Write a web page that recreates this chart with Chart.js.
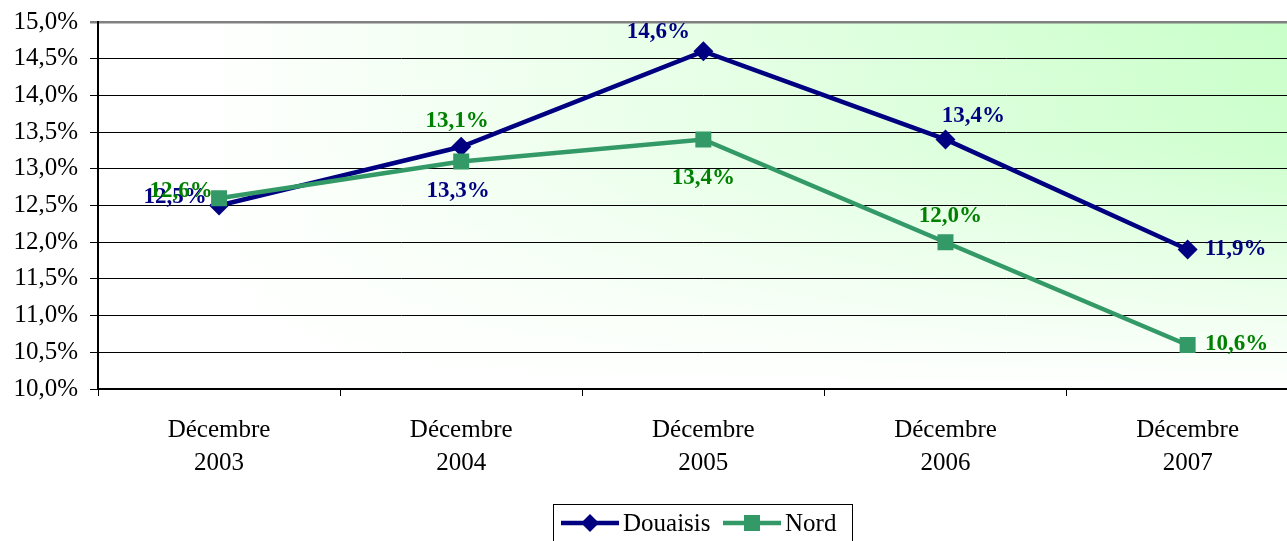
<!DOCTYPE html>
<html lang="fr">
<head>
<meta charset="UTF-8" />
<title>Douaisis / Nord</title>
<script src="https://cdn.jsdelivr.net/npm/chart.js"></script>
<style>
  html, body { margin: 0; padding: 0; background: #fff; overflow: hidden; }
  #wrap { width: 1320px; height: 541px; }
</style>
</head>
<body>
<div id="wrap"><canvas id="graph" width="1320" height="541"></canvas></div>
<script>
const annees = ['2003', '2004', '2005', '2006', '2007'];
const categories = annees.map(a => ['Décembre', a]);
const douaisis = [12.5, 13.3, 14.6, 13.4, 11.9];
const nord = [12.6, 13.1, 13.4, 12.0, 10.6];
const yMin = 10, yMax = 15, yStep = 0.5;

// décalage des étiquettes par rapport au point (px)
const decalDouaisis = [[-44, -8], [-3, 44], [-45, -19], [28, -23], [48, 0]];
const decalNord = [[-38, -7], [-4, -40], [0, 39], [5, -26], [49, -1]];

const BLEU = '#000080', VERT_LIGNE = '#339966', VERT_TEXTE = '#008000';
const POLICE = '"Liberation Serif", "Times New Roman", serif';

const pct = v => v.toFixed(1).replace('.', ',') + '%';

const fond = {
  id: 'fond',
  beforeDraw(chart) {
    const { ctx, chartArea: a } = chart;
    ctx.save();
    let g = ctx.createLinearGradient(a.left, 0, a.right, 0);
    g.addColorStop(0, '#ffffff');
    g.addColorStop(0.08, '#ffffff');
    g.addColorStop(1, '#c8ffc8');
    ctx.fillStyle = g;
    ctx.fillRect(a.left, a.top, a.right - a.left, a.bottom - a.top);
    g = ctx.createLinearGradient(0, a.top, 0, a.bottom);
    g.addColorStop(0, 'rgba(255,255,255,0)');
    g.addColorStop(0.35, 'rgba(255,255,255,0.1)');
    g.addColorStop(1, 'rgba(255,255,255,1)');
    ctx.fillStyle = g;
    ctx.fillRect(a.left, a.top, a.right - a.left, a.bottom - a.top);
    ctx.restore();
  }
};

const etiquettes = {
  id: 'etiquettes',
  afterDatasetsDraw(chart) {
    const { ctx } = chart;
    ctx.save();
    ctx.font = 'bold 23px ' + POLICE;
    ctx.textAlign = 'center';
    ctx.textBaseline = 'middle';
    [[0, decalDouaisis, BLEU], [1, decalNord, VERT_TEXTE]].forEach(([i, dec, col]) => {
      const meta = chart.getDatasetMeta(i);
      ctx.fillStyle = col;
      meta.data.forEach((p, j) => {
        const v = chart.data.datasets[i].data[j];
        ctx.fillText(pct(v), p.x + dec[j][0], p.y + dec[j][1]);
      });
    });
    ctx.restore();
  }
};

const legende = {
  id: 'legende',
  afterDraw(chart) {
    const { ctx } = chart;
    const y = 523;
    ctx.save();
    ctx.strokeStyle = '#000';
    ctx.lineWidth = 1;
    ctx.strokeRect(553.5, 504.5, 299, 50);
    ctx.font = '25px ' + POLICE;
    ctx.textBaseline = 'middle';
    const items = [
      { x: 561, txt: 'Douaisis', col: BLEU, forme: 'losange' },
      { x: 723, txt: 'Nord', col: VERT_LIGNE, forme: 'carre' }
    ];
    items.forEach(it => {
      ctx.strokeStyle = it.col;
      ctx.lineWidth = 4.5;
      ctx.beginPath();
      ctx.moveTo(it.x, y);
      ctx.lineTo(it.x + 58, y);
      ctx.stroke();
      ctx.fillStyle = it.col;
      const m = it.x + 29;
      ctx.beginPath();
      if (it.forme === 'losange') {
        ctx.moveTo(m, y - 9); ctx.lineTo(m + 9, y); ctx.lineTo(m, y + 9); ctx.lineTo(m - 9, y);
      } else {
        ctx.rect(m - 8, y - 8, 16, 16);
      }
      ctx.closePath();
      ctx.fill();
      ctx.fillStyle = '#000';
      ctx.fillText(it.txt, it.x + 62, y + 1);
    });
    ctx.restore();
  }
};

new Chart(document.getElementById('graph'), {
  type: 'line',
  data: {
    labels: categories,
    datasets: [
      {
        label: 'Douaisis',
        data: douaisis,
        borderColor: BLEU,
        backgroundColor: BLEU,
        borderWidth: 4.5,
        pointStyle: 'rectRot',
        pointRadius: 10,
        pointBorderWidth: 0,
        tension: 0,
        order: 2
      },
      {
        label: 'Nord',
        data: nord,
        borderColor: VERT_LIGNE,
        backgroundColor: VERT_LIGNE,
        borderWidth: 4.5,
        pointStyle: 'rect',
        pointRadius: 11.3,
        pointBorderWidth: 0,
        tension: 0,
        order: 1
      }
    ]
  },
  options: {
    responsive: false,
    animation: false,
    layout: { padding: { top: 22, right: 2, left: 0, bottom: 0 } },
    plugins: {
      legend: { display: false },
      tooltip: { enabled: false }
    },
    scales: {
      x: {
        offset: true,
        grid: {
          offset: true,
          drawOnChartArea: false,
          drawTicks: true,
          tickLength: 7,
          color: '#000',
          lineWidth: 1
        },
        border: { color: '#000', width: 2 },
        ticks: {
          color: '#000',
          padding: 18,
          maxRotation: 0,
          font: { family: POLICE, size: 25, lineHeight: 1.32 }
        },
        afterFit(s) { s.height = 152; }
      },
      y: {
        min: yMin,
        max: yMax,
        grid: {
          color: c => c.tick && c.tick.value === yMax ? '#808080' : '#000',
          lineWidth: c => c.tick && c.tick.value === yMax ? 2.5 : 1,
          tickLength: 8
        },
        border: { color: '#000', width: 2 },
        ticks: {
          stepSize: yStep,
          color: '#000',
          padding: 12,
          font: { family: POLICE, size: 25 },
          callback: v => pct(v)
        },
        afterFit(s) { s.width = 98; s.paddingTop = 0; s.paddingBottom = 0; }
      }
    }
  },
  plugins: [fond, etiquettes, legende]
});
</script>
</body>
</html>
